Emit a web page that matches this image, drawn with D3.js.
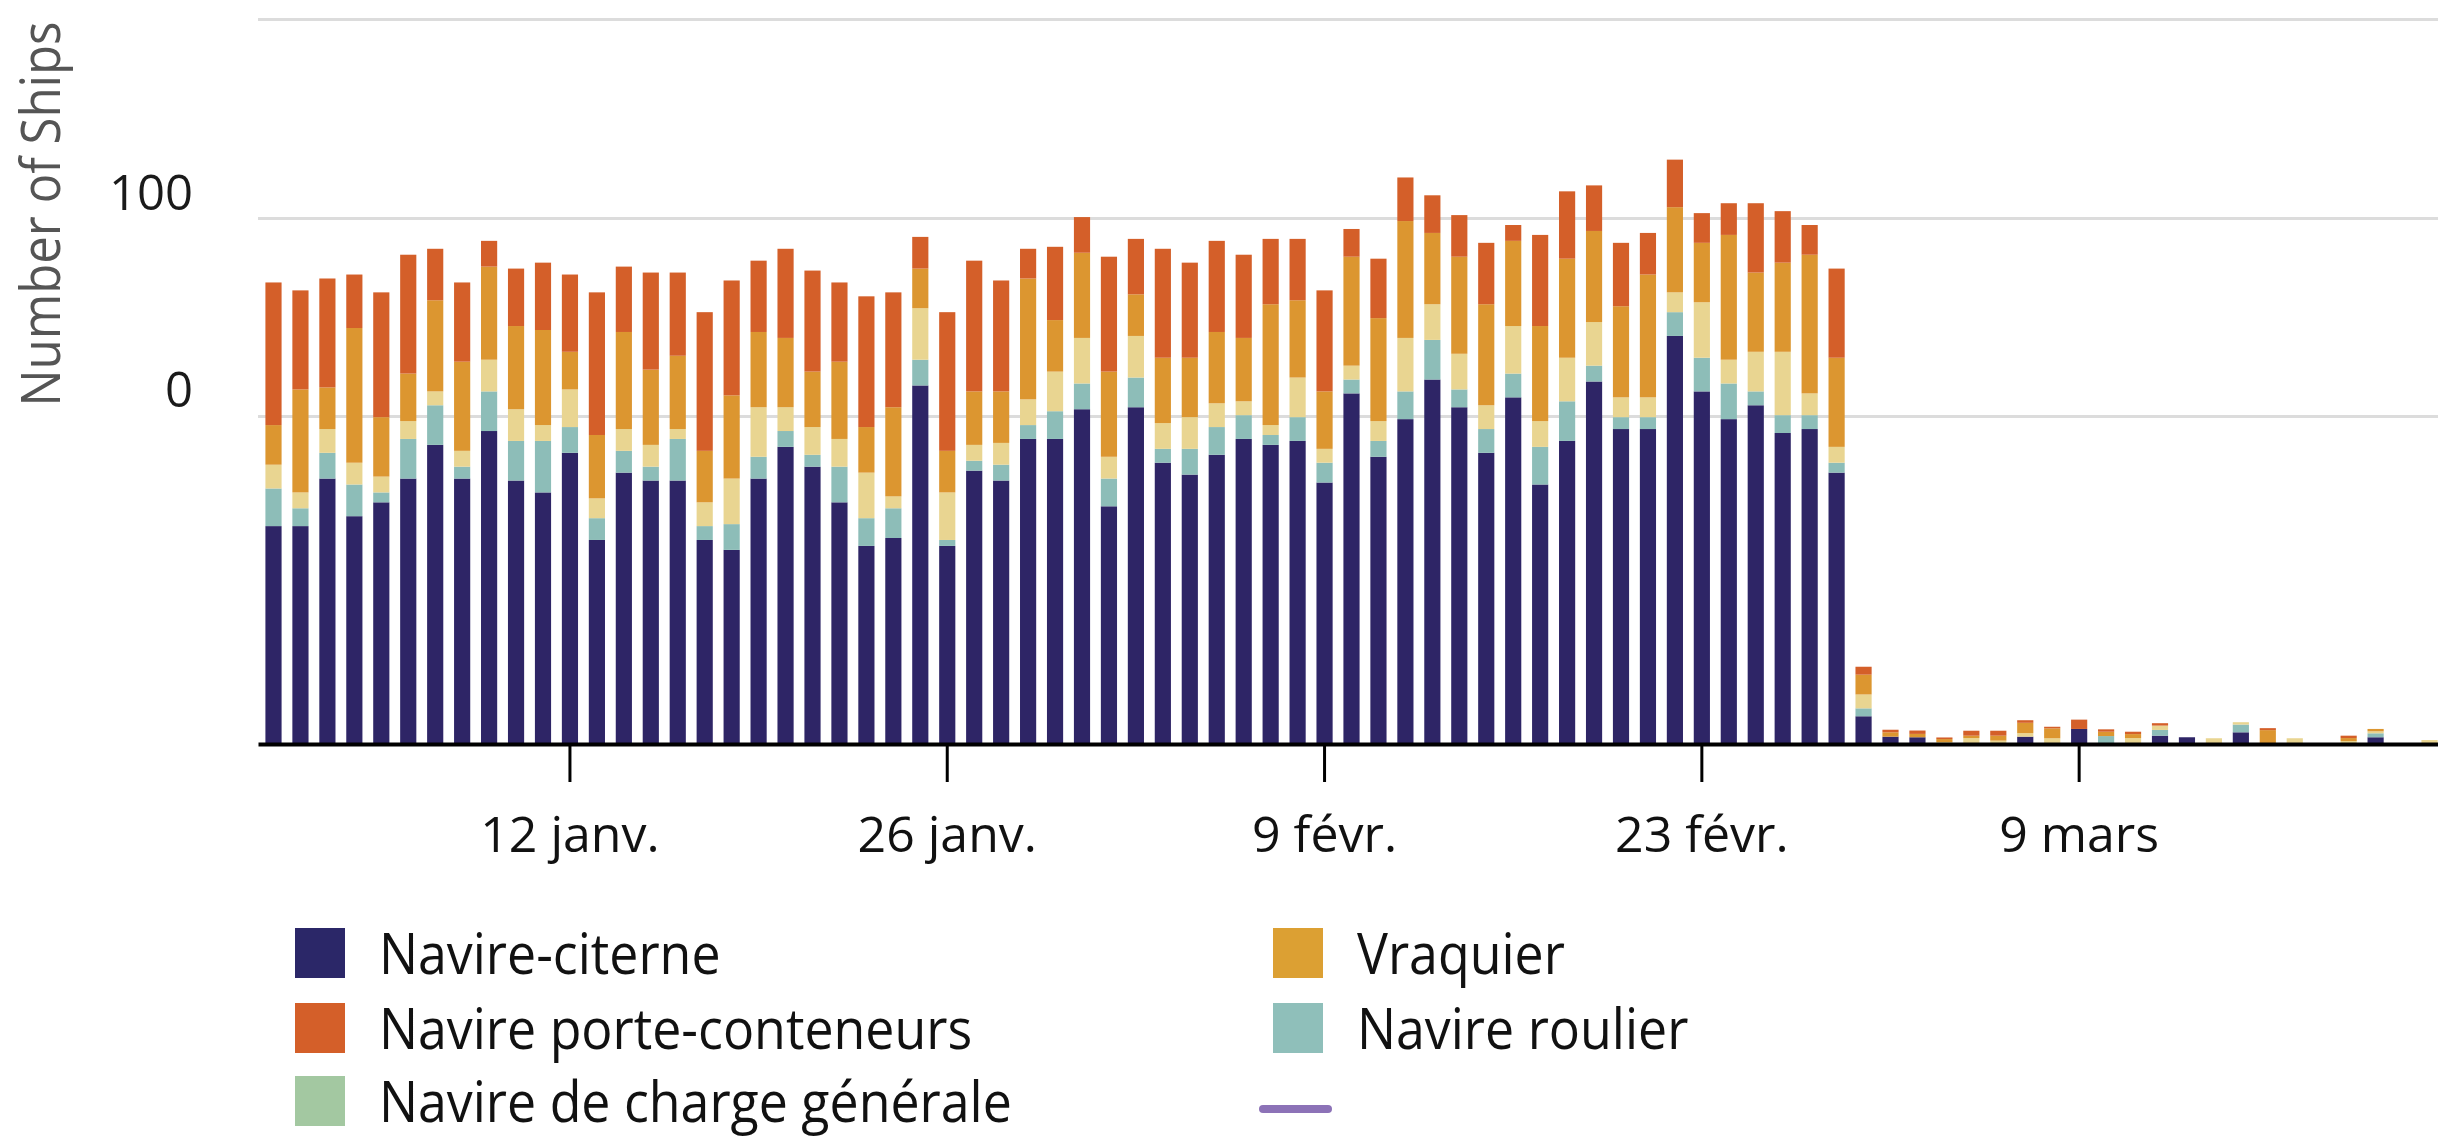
<!DOCTYPE html>
<html>
<head>
<meta charset="utf-8">
<script src="https://cdn.jsdelivr.net/npm/d3@7"></script>
<style>
  body { margin: 0; background: #fff; }
  text { font-family: "Open Sans", sans-serif; }
</style>
</head>
<body>
<svg id="chart" width="2438" height="1138"></svg>
<script>
// one bar per day, 1 Jan -> 22 Mar
const firstDay = new Date(2026, 0, 1), lastDay = new Date(2026, 2, 23);
const days = d3.timeDays(firstDay, lastDay);

// series (units: one gridline step = 100)
const tanker = [110,110,134,115,122,134,151,134,158,133,127,147,103,137,133,133,103,98,134,150,140,122,100,104,181,100,
  138,133,154,154,169,120,170,142,136,146,154,151,153,132,177,145,164,184,170,147,175,131,153,183,159,159,206,178,164,171,157,159,137,
  14,3.7,3.4,0,0,0,3.7,0,7.6,0,0,4.2,3.4,0,5.9,0,0,0,0,3.4,0,0];
const roro = [19,9,13,16,5,20,20,6,20,20,26,13,11,11,7,21,7,13,11,8,6,18,14,15,13,3,
  5,8,7,14,13,14,15,7,13,14,12,5,12,10,7,8,14,20,9,12,12,19,20,8,6,6,12,17,18,7,9,7,5,
  4,0,0,0,0,0,0,0,0,4,0,2.9,0,0,3.9,0,0,0,0,2,0,0];
const general = [12,8,12,11,8,9,7,8,16,16,8,19,10,11,11,5,12,23,25,12,14,14,23,6,26,24,
  8,11,13,20,23,11,21,13,16,12,7,5,20,7,7,10,27,18,18,12,24,13,22,22,10,10,10,28,12,20,32,11,8,
  7,0,0,1,3,1.7,1.8,2.9,0,0,3,2.2,0,2.9,1.2,0,2.9,0,1.5,1,0,2];
const bulk = [20,52,21,68,30,24,46,45,47,42,48,19,32,49,38,37,26,42,38,35,28,39,23,45,20,21,
  27,26,61,26,43,43,21,33,30,36,32,61,39,29,55,52,59,36,49,51,43,48,50,46,46,62,43,30,63,40,45,70,45,
  10,2.2,1.7,1.5,1.2,2.5,5.2,5,0,2.2,2,0,0,0,0,7,0,0,1.5,1.2,0,0];
const container = [72,50,55,27,63,60,26,40,13,29,34,39,72,33,49,42,70,58,36,45,51,40,66,58,16,70,
  66,56,15,37,18,58,28,55,48,46,42,33,31,51,14,30,22,19,21,31,8,46,34,23,32,21,24,15,16,35,26,15,45,
  4,1.3,1.7,0.8,2.5,2.5,1.3,0.8,4.7,1.2,1.2,1.2,0,0,0,1,0,0,1.2,0,0,0];

const seriesKeys = ["tanker", "roro", "general", "bulk", "container"];
const barColours = { tanker: "#2e2566", roro: "#8dbdb8", general: "#e9d591", bulk: "#dc9630", container: "#d45f29" };

const legendItems = [
  { label: "Navire-citerne", colour: "#2b2768" },
  { label: "Navire porte-conteneurs", colour: "#d45f29" },
  { label: "Navire de charge générale", colour: "#a3c8a1" },
  { label: "Vraquier", colour: "#dca033" },
  { label: "Navire roulier", colour: "#8fbfba" },
  { label: "", colour: "#8c72b7", line: true }
];

const tickDays = [new Date(2026, 0, 12), new Date(2026, 0, 26), new Date(2026, 1, 9), new Date(2026, 1, 23), new Date(2026, 2, 9)];
const tickLabels = ["12 janv.", "26 janv.", "9 févr.", "23 févr.", "9 mars"];

const gridValues = [165.6, 265.5, 366];
const gridLabels = ["0", "100", ""];

let svg = d3.select("#chart");
let plotLeft = 258, plotRight = 2438, plotTop = 19, baseline = 744;

let rows = days.map((d, i) => ({
  date: d, tanker: tanker[i], roro: roro[i], general: general[i], bulk: bulk[i], container: container[i]
}));

// the last band runs a little past the picture's right edge
let x = d3.scaleBand().domain(days).range([plotLeft, plotRight + 7]).paddingInner(0.4).paddingOuter(0.275);
let y = d3.scaleLinear().domain([0, 366]).range([baseline, plotTop]);

// gridlines + y labels
let yAxis = svg.append("g")
  .attr("transform", `translate(${plotLeft},0)`)
  .call(d3.axisLeft(y).tickValues(gridValues).tickSize(-(plotRight - plotLeft)).tickFormat((d, i) => gridLabels[i]));
yAxis.select(".domain").remove();
yAxis.selectAll(".tick line").attr("stroke", "#dcdcdc").attr("stroke-width", 3);
yAxis.selectAll(".tick text")
  .attr("x", -65).attr("dy", -9)
  .attr("font-size", 49).attr("fill", "#1a1a1a")
  .style("font-family", '"Open Sans", sans-serif');

// bars
let stacked = d3.stack().keys(seriesKeys)(rows);
svg.append("g")
  .selectAll("g")
  .data(stacked)
  .join("g")
  .attr("fill", s => barColours[s.key])
  .selectAll("rect")
  .data(s => s)
  .join("rect")
  .attr("x", d => x(d.data.date))
  .attr("width", x.bandwidth())
  .attr("y", d => y(d[1]))
  .attr("height", d => y(d[0]) - y(d[1]));

// x axis
let xAxis = svg.append("g")
  .attr("transform", `translate(0,${baseline})`)
  .call(d3.axisBottom(x).tickValues(tickDays).tickFormat((d, i) => tickLabels[i]).tickSize(38).tickSizeOuter(0).tickPadding(34));
xAxis.select(".domain").attr("stroke", "#000").attr("stroke-width", 4);
xAxis.selectAll(".tick line").attr("stroke", "#000").attr("stroke-width", 3);
xAxis.selectAll(".tick text")
  .attr("font-size", 50).attr("fill", "#111")
  .style("font-family", '"Open Sans", sans-serif');

// y title
svg.append("text")
  .attr("transform", "translate(60,214) rotate(-90) scale(0.91,1)")
  .attr("text-anchor", "middle")
  .attr("font-size", 54)
  .attr("fill", "#555")
  .text("Number of Ships");

// legend (rows squeezed a touch so the last line keeps its descenders)
let colX = [295, 1273], rowY = [928, 1003, 1076];
let legend = svg.append("g")
  .selectAll("g")
  .data(legendItems)
  .join("g")
  .attr("transform", (d, i) => `translate(${colX[Math.floor(i / 3)]},${rowY[i % 3]})`);

legend.filter(d => !d.line).append("rect")
  .attr("width", 50).attr("height", 50)
  .attr("fill", d => d.colour);

legend.filter(d => d.line).append("line")
  .attr("x1", -10).attr("x2", 55).attr("y1", 33).attr("y2", 33)
  .attr("stroke", d => d.colour).attr("stroke-width", 8).attr("stroke-linecap", "round");

legend.append("text")
  .attr("transform", "translate(84,46) scale(0.91,1)")
  .attr("font-size", 57)
  .attr("fill", "#111")
  .text(d => d.label);
</script>
</body>
</html>
